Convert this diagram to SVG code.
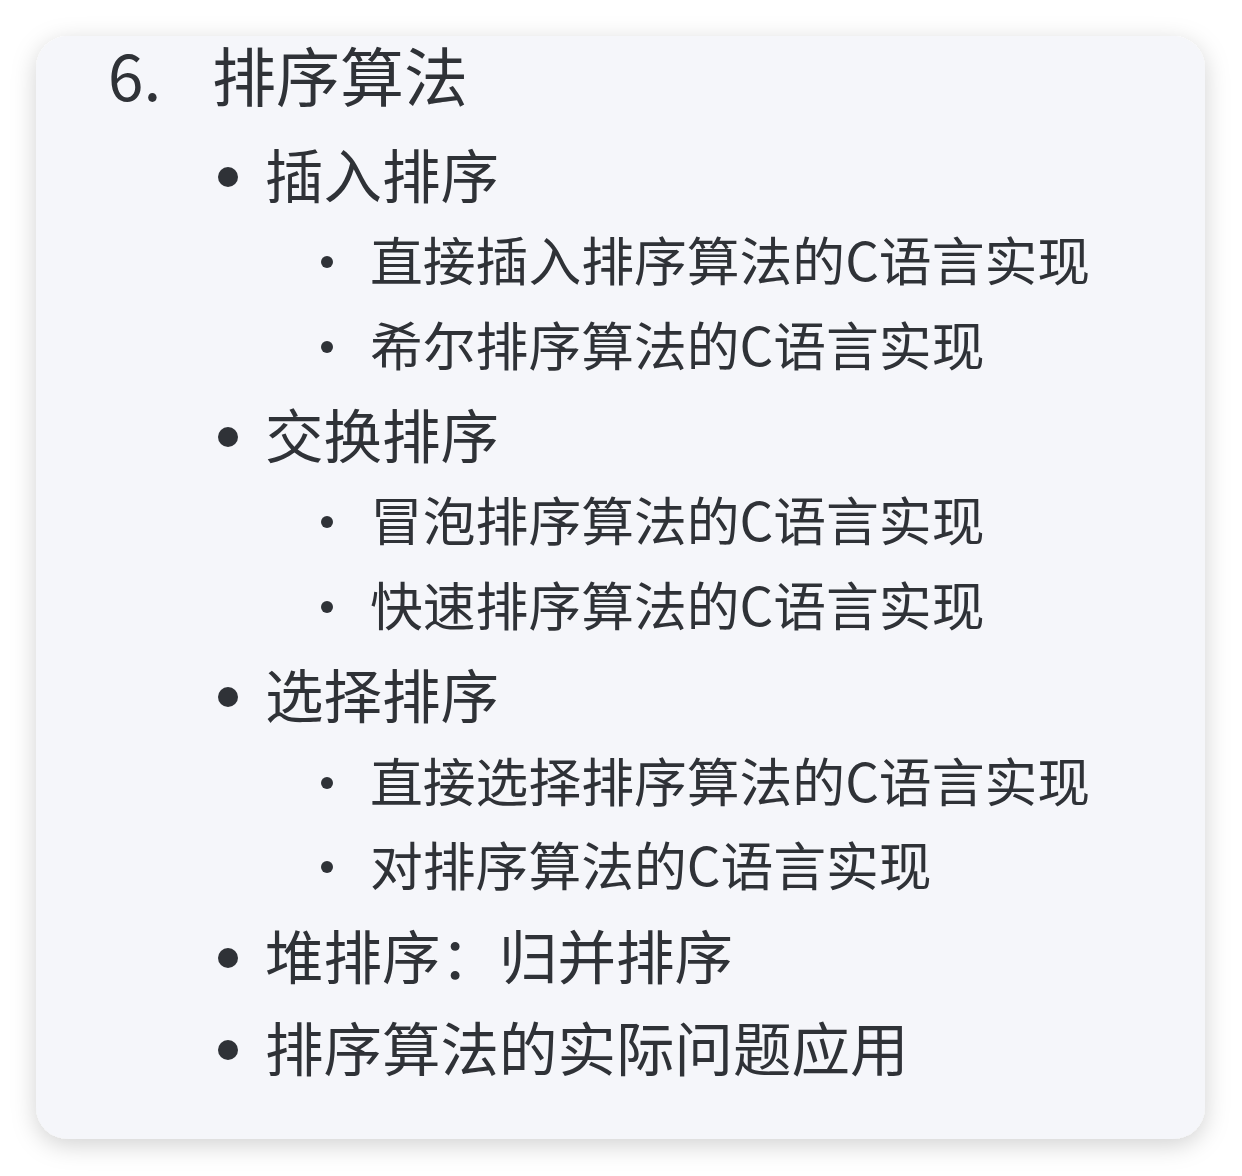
<svg xmlns="http://www.w3.org/2000/svg" width="1242" height="1176" viewBox="0 0 1242 1176">
<style>
.t{font-family:"Noto Sans CJK SC","Noto Sans",sans-serif;fill:#2f3237}
.h{font-size:64px}
.l1{font-size:58.5px}
.l2{font-size:52.8px}
.b1{fill:#2f3237}
.b2{fill:#2f3237}
</style>
<defs>
<filter id="sh" x="-10%" y="-10%" width="120%" height="120%">
<feDropShadow dx="0" dy="6" stdDeviation="12" flood-color="#000" flood-opacity="0.18"/>
</filter>
</defs>
<rect width="1242" height="1176" fill="#ffffff"/>
<rect id="card" x="36" y="36" width="1169" height="1103" rx="32" fill="#f5f6fa" filter="url(#sh)"/>
<g id="title"><text class="t h" x="108" y="101">6.</text><text class="t h" x="212" y="101">排序算法</text></g>
<g id="i1"><circle class="b1" cx="228" cy="177" r="10"/><text class="t l1" x="265" y="198">插入排序</text></g>
<g id="i1a"><circle class="b2" cx="327" cy="262" r="6"/><text class="t l2" x="370" y="281">直接插入排序算法的C语言实现</text></g>
<g id="i1b"><circle class="b2" cx="327" cy="347" r="6"/><text class="t l2" x="370" y="366">希尔排序算法的C语言实现</text></g>
<g id="i2"><circle class="b1" cx="228" cy="437" r="10"/><text class="t l1" x="265" y="458">交换排序</text></g>
<g id="i2a"><circle class="b2" cx="327" cy="522" r="6"/><text class="t l2" x="370" y="541">冒泡排序算法的C语言实现</text></g>
<g id="i2b"><circle class="b2" cx="327" cy="607" r="6"/><text class="t l2" x="370" y="626">快速排序算法的C语言实现</text></g>
<g id="i3"><circle class="b1" cx="228" cy="697" r="10"/><text class="t l1" x="265" y="718">选择排序</text></g>
<g id="i3a"><circle class="b2" cx="327" cy="783" r="6"/><text class="t l2" x="370" y="802">直接选择排序算法的C语言实现</text></g>
<g id="i3b"><circle class="b2" cx="327" cy="867" r="6"/><text class="t l2" x="370" y="886">对排序算法的C语言实现</text></g>
<g id="i4"><circle class="b1" cx="228" cy="958" r="10"/><text class="t l1" x="265" y="979">堆排序：归并排序</text></g>
<g id="i5"><circle class="b1" cx="228" cy="1050" r="10"/><text class="t l1" x="265" y="1071">排序算法的实际问题应用</text></g>
</svg>
